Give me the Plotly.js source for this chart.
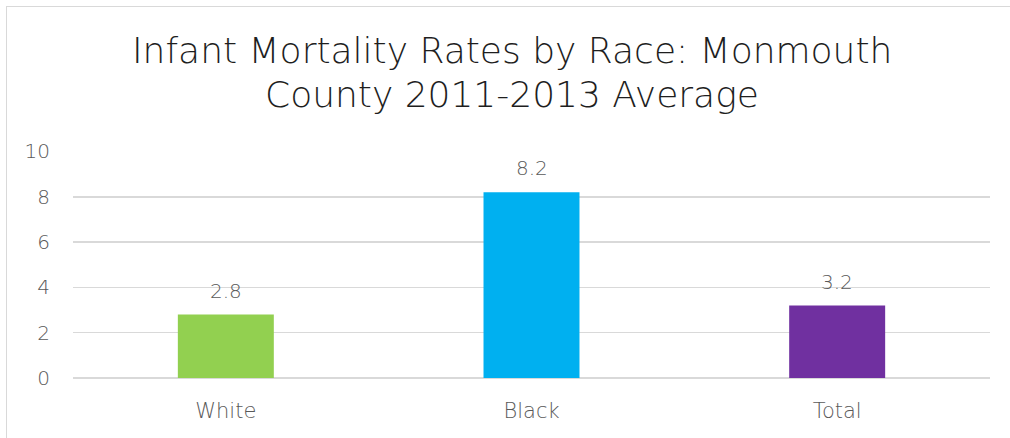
<!DOCTYPE html>
<html>
<head>
<meta charset="utf-8">
<script src="https://cdn.plot.ly/plotly-3.0.1.min.js"></script>
<style>
html,body{margin:0;padding:0;background:#fff;overflow:hidden;}
#chart{width:1010px;height:438px;}
#frame{position:absolute;left:6px;top:6px;width:1030px;height:460px;border:1.5px solid #d9d9d9;pointer-events:none;}
</style>
</head>
<body>
<div id="chart"></div>
<div id="frame"></div>
<script>
const categories = ["White", "Black", "Total"];
const values = [2.8, 8.2, 3.2];
const colors = ["#92D050", "#00B0F0", "#7030A0"];
const yTicks = [0, 2, 4, 6, 8, 10];
const titleLines = ["Infant Mortality Rates by Race: Monmouth", "County 2011-2013 Average"];

const FONT = "DejaVu Sans, sans-serif";
const PLOT_TOP = 151, PLOT_BOTTOM = 378;
const py = p => (PLOT_BOTTOM - p) / (PLOT_BOTTOM - PLOT_TOP);

const annotations = [];
titleLines.forEach((t, i) => {
  annotations.push({
    text: t, xref: "paper", yref: "paper",
    x: 0.479, y: py([50, 94][i]), xanchor: "center", yanchor: "middle",
    showarrow: false,
    font: {family: FONT, size: 36, color: "#1e1e1e", weight: 200}
  });
});
categories.forEach((c, i) => {
  annotations.push({
    text: values[i].toFixed(1), x: c, y: values[i], xref: "x", yref: "y",
    xanchor: "center", yanchor: "bottom", yshift: 10, showarrow: false,
    font: {family: FONT, size: 20, color: "#595959", weight: 200}
  });
});

Plotly.newPlot("chart", [{
  type: "bar",
  x: categories,
  y: values,
  marker: {color: colors},
  hoverinfo: "none"
}], {
  width: 1010,
  height: 438,
  margin: {l: 73, r: 20, t: 151, b: 60},
  paper_bgcolor: "#fff",
  plot_bgcolor: "#fff",
  bargap: 0.686,
  showlegend: false,
  annotations: annotations,
  xaxis: {
    showline: false, showgrid: false, zeroline: false,
    tickfont: {family: FONT, size: 21, color: "#595959", weight: 200},
    ticks: "outside", ticklen: 14, tickcolor: "rgba(0,0,0,0)"
  },
  yaxis: {
    range: [0, 10.02],
    tickvals: yTicks,
    showline: false, zeroline: true, zerolinecolor: "#d9d9d9", zerolinewidth: 1.5,
    gridcolor: "#d9d9d9", gridwidth: 1.5,
    tickfont: {family: FONT, size: 20, color: "#595959", weight: 200},
    ticks: "outside", ticklen: 18, tickcolor: "rgba(0,0,0,0)"
  }
}, {staticPlot: true});
</script>
</body>
</html>
